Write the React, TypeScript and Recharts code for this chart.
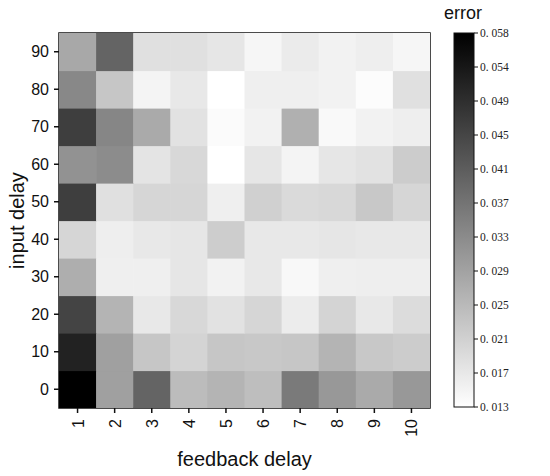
import React from "react";
import {
  ScatterChart,
  Scatter,
  XAxis,
  YAxis,
  ReferenceArea,
} from "recharts";

// feedback delay (columns) and input delay (rows)
const feedbackDelays = [1, 2, 3, 4, 5, 6, 7, 8, 9, 10];
const inputDelays = [0, 10, 20, 30, 40, 50, 60, 70, 80, 90];

// error per input delay row, one value per feedback delay
const err0 = [0.058, 0.0298, 0.0404, 0.0248, 0.0262, 0.0245, 0.0365, 0.0312, 0.028, 0.0312];
const err10 = [0.052, 0.0298, 0.0231, 0.0206, 0.0231, 0.0227, 0.0231, 0.0262, 0.0227, 0.022];
const err20 = [0.046, 0.0262, 0.0171, 0.0199, 0.0181, 0.0202, 0.0164, 0.0206, 0.0171, 0.0192];
const err30 = [0.0273, 0.0158, 0.0158, 0.0174, 0.0153, 0.0171, 0.0142, 0.0158, 0.016, 0.016];
const err40 = [0.0202, 0.016, 0.0171, 0.0174, 0.0218, 0.0171, 0.0171, 0.0174, 0.0171, 0.0171];
const err50 = [0.0471, 0.0185, 0.0202, 0.0202, 0.0158, 0.0213, 0.0195, 0.0199, 0.0227, 0.0202];
const err60 = [0.0322, 0.0333, 0.0178, 0.0199, 0.013, 0.0174, 0.0149, 0.0174, 0.0181, 0.022];
const err70 = [0.0471, 0.0344, 0.028, 0.0181, 0.0137, 0.0153, 0.0269, 0.0141, 0.0153, 0.016];
const err80 = [0.034, 0.0231, 0.0149, 0.0171, 0.013, 0.0158, 0.0158, 0.0153, 0.0135, 0.0185];
const err90 = [0.0284, 0.0404, 0.0185, 0.0185, 0.0174, 0.0146, 0.0165, 0.0153, 0.016, 0.0146];

const errorRows = [err0, err10, err20, err30, err40, err50, err60, err70, err80, err90];

// colour bar
const errMin = 0.013;
const errMax = 0.058;
const colorTicks = ["0. 058", "0. 054", "0. 049", "0. 045", "0. 041", "0. 037", "0. 033", "0. 029", "0. 025", "0. 021", "0. 017", "0. 013"];

const W = 550;
const H = 476;
const PLOT_LEFT = 59;
const PLOT_TOP = 33;
const PLOT_W = 371;
const PLOT_H = 375;
const FONT = "'Liberation Sans', Arial, sans-serif";

function grayFor(v: number) {
  const t = Math.min(1, Math.max(0, (v - errMin) / (errMax - errMin)));
  const g = Math.round(255 * (1 - t));
  return `rgb(${g},${g},${g})`;
}

const data = inputDelays.flatMap((y, r) =>
  feedbackDelays.map((x, c) => ({ x, y, v: errorRows[r][c] }))
);

const cellW = PLOT_W / feedbackDelays.length;
const cellH = PLOT_H / inputDelays.length;

function HeatCell(props: any) {
  const { cx, cy, payload } = props;
  if (cx == null || cy == null) return null;
  return (
    <rect
      x={cx - cellW / 2}
      y={cy - cellH / 2}
      width={cellW + 0.6}
      height={cellH + 0.6}
      fill={grayFor(payload.v)}
      stroke="none"
    />
  );
}

function XTick(props: any) {
  const { x, y, payload } = props;
  const ty = y + 4;
  return (
    <text
      x={x}
      y={ty}
      transform={`rotate(-90, ${x}, ${ty})`}
      textAnchor="end"
      dy={6}
      fontSize={16}
      fontFamily={FONT}
      fill="#111"
    >
      {payload.value}
    </text>
  );
}

function ColorBar() {
  const barX = 454;
  const barW = 20;
  const top = PLOT_TOP;
  const bottom = 407;
  const step = (bottom - top) / (colorTicks.length - 1);
  return (
    <svg
      width={W}
      height={H}
      style={{ position: "absolute", left: 0, top: 0, pointerEvents: "none" }}
    >
      <defs>
        <linearGradient id="errGrad" x1="0" y1="0" x2="0" y2="1">
          <stop offset="0%" stopColor="#000" />
          <stop offset="100%" stopColor="#fff" />
        </linearGradient>
      </defs>
      <text x={463} y={19} textAnchor="middle" fontSize={18} fontFamily={FONT} fill="#111">
        error
      </text>
      <rect x={barX} y={top} width={barW} height={bottom - top} fill="url(#errGrad)" stroke="#111" strokeWidth={1} />
      {colorTicks.map((t, i) => {
        const ty = top + i * step;
        return (
          <g key={t}>
            <line x1={barX + barW} x2={barX + barW + 4} y1={ty} y2={ty} stroke="#111" />
            <text
              x={barX + barW + 6}
              y={ty}
              dy={4}
              fontSize={11.5}
              fontFamily="'Liberation Serif', 'DejaVu Serif', serif"
              fill="#222"
            >
              {t}
            </text>
          </g>
        );
      })}
    </svg>
  );
}

export default function App() {
  return (
    <div style={{ position: "absolute", left: 0, top: 0, width: W, height: H, background: "#fff" }}>
      <ScatterChart
        width={W}
        height={H}
        margin={{ top: PLOT_TOP, right: W - PLOT_LEFT - PLOT_W, bottom: 0, left: 0 }}
      >
        <XAxis
          type="number"
          dataKey="x"
          domain={[0.5, 10.5]}
          ticks={feedbackDelays}
          allowDataOverflow
          height={H - PLOT_TOP - PLOT_H}
          axisLine={false}
          tickLine={{ stroke: "#111", strokeWidth: 1.5 }}
          tickSize={5}
          tick={<XTick />}
          label={{
            value: "feedback delay",
            position: "insideBottom",
            offset: 10,
            fontSize: 20,
            fill: "#111",
            fontFamily: FONT,
          }}
        />
        <YAxis
          type="number"
          dataKey="y"
          domain={[-5, 95]}
          ticks={inputDelays}
          allowDataOverflow
          width={PLOT_LEFT}
          axisLine={false}
          tickLine={{ stroke: "#111", strokeWidth: 1.5 }}
          tickSize={5}
          tickMargin={5}
          tick={{ fontSize: 16, fill: "#111", fontFamily: FONT }}
          label={{
            value: "input delay",
            angle: -90,
            position: "insideLeft",
            offset: 17,
            fontSize: 20,
            fill: "#111",
            fontFamily: FONT,
            style: { textAnchor: "middle" },
          }}
        />
        <Scatter data={data} shape={<HeatCell />} isAnimationActive={false} />
        <ReferenceArea
          x1={0.5}
          x2={10.5}
          y1={-5}
          y2={95}
          fill="none"
          fillOpacity={0}
          stroke="#111"
          strokeWidth={1.5}
          strokeOpacity={1}
        />
      </ScatterChart>
      <ColorBar />
    </div>
  );
}
